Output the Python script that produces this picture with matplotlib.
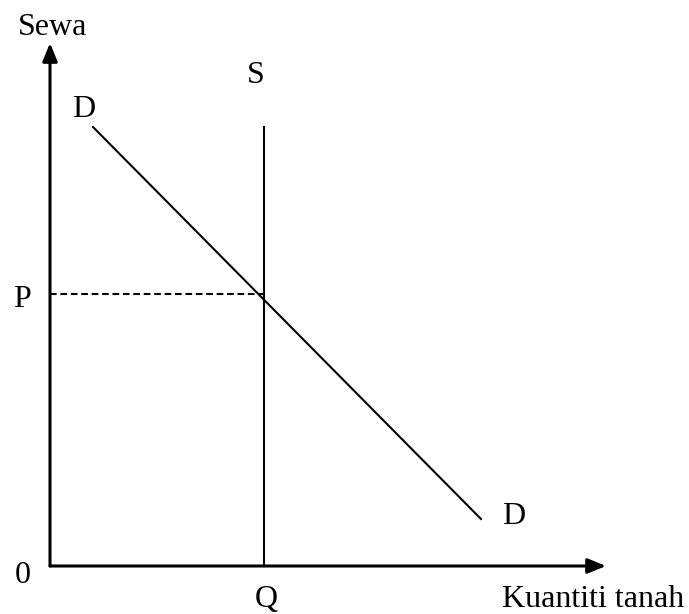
import matplotlib.pyplot as plt

plt.rcParams['font.family'] = ['Liberation Serif', 'DejaVu Serif']

# schematic values (arbitrary units, origin at 0)
x_axis_end = 556
y_axis_end = 523
q_supply = 214           # fixed supply of land
s_top = 440
p_rent = 272             # equilibrium rent
demand_x = [43, 431]
demand_y = [439, 47]

labels = ['Sewa', 'S', 'D', 'P', '0', 'Q', 'D', 'Kuantiti tanah']
label_x = [-32, 197, 22, -37, -35, 205, 452, 452]
label_y = [531, 483, 449, 259, -17, -41, 42, -41]

fig = plt.figure(figsize=(6.89, 6.14), dpi=100)
ax = fig.add_axes([0, 0, 1, 1])
ax.set_xlim(-50, 639)
ax.set_ylim(-48, 566)
ax.axis('off')

# axes with arrows
arrow = dict(arrowstyle='-|>,head_length=1.1,head_width=0.45', lw=2.2, color='black',
             shrinkA=0, shrinkB=0, mutation_scale=10)
ax.annotate('', xy=(x_axis_end, 0), xytext=(0, 0), arrowprops=arrow)
ax.annotate('', xy=(0, y_axis_end), xytext=(0, 0), arrowprops=arrow)

# supply (vertical) and demand
ax.plot([q_supply, q_supply], [0, s_top], color='black', lw=1.5, solid_capstyle='butt')
ax.plot(demand_x, demand_y, color='black', lw=1.5)

# dashed rent line
ax.plot([0, q_supply], [p_rent, p_rent], color='black', lw=1.5, linestyle=(0, (3.2, 1.8)))

for txt, x, y in zip(labels, label_x, label_y):
    ax.text(x, y, txt, fontsize=23, ha='left', va='baseline')

plt.savefig('out.png', dpi=100)
